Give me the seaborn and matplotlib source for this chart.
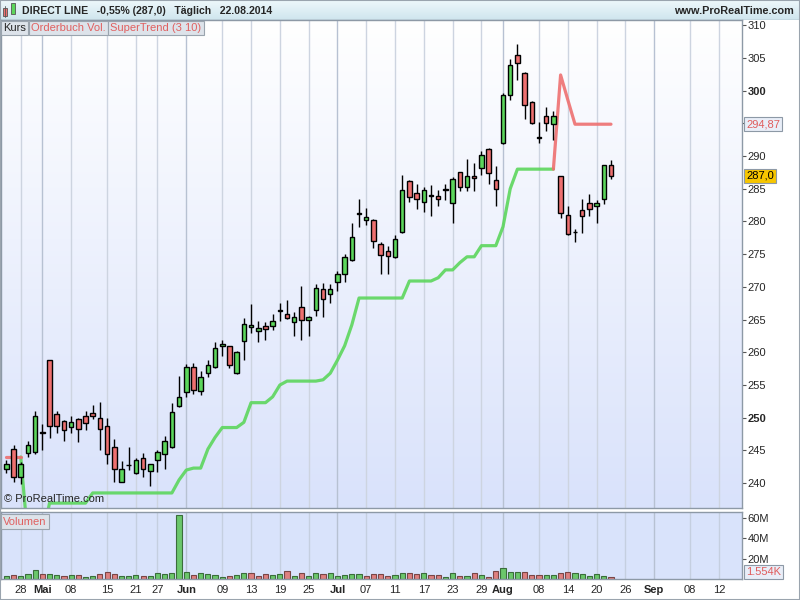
import numpy as np
import pandas as pd
import matplotlib
matplotlib.use("Agg")
import matplotlib.pyplot as plt
import seaborn as sns
from matplotlib.colors import LinearSegmentedColormap

# daily OHLC for DIRECT LINE, 24.04.2014 - 22.08.2014
opens = [242.1, 245.2, 241.0, 244.6, 244.7, 247.7, 258.8, 250.5, 249.5, 248.6,
         249.8, 250.2, 250.7, 249.9, 248.7, 245.5, 240.2, 242.7, 241.5, 243.8,
         241.9, 243.6, 244.4, 245.5, 251.8, 253.9, 257.7, 254.1, 256.8, 257.7,
         260.9, 260.9, 256.8, 261.8, 263.8, 263.3, 264.0, 264.0, 266.3, 265.8,
         264.6, 266.9, 264.9, 266.5, 269.7, 268.9, 270.7, 271.9, 274.1, 281.2,
         280.3, 280.3, 276.5, 275.5, 274.5, 278.4, 286.2, 284.4, 283.0, 283.95,
         283.9, 284.85, 282.9, 287.5, 285.2, 287.0, 288.1, 291.1, 286.3, 292.0,
         299.3, 305.5, 302.7, 298.2, 292.75, 296.2, 294.9, 286.9, 281.0, 278.35,
         281.7, 282.8, 282.4, 283.5, 288.7]
highs = [243.6, 245.8, 243.3, 246.4, 251.0, 249.0, 258.9, 251.0, 249.6, 250.2,
         249.9, 251.1, 251.9, 252.4, 249.9, 246.7, 243.4, 245.5, 243.9, 244.6,
         243.0, 245.1, 247.2, 252.2, 256.4, 258.2, 258.3, 257.1, 258.9, 261.6,
         261.9, 261.0, 260.2, 265.2, 267.4, 264.8, 264.7, 265.8, 267.6, 268.0,
         266.1, 270.1, 265.5, 270.4, 270.6, 270.4, 272.4, 275.1, 279.8, 283.5,
         282.0, 280.4, 276.8, 276.3, 277.9, 287.1, 286.4, 285.7, 285.2, 285.6,
         284.8, 285.8, 286.8, 287.6, 289.5, 288.9, 290.7, 291.2, 288.5, 299.6,
         304.8, 307.2, 302.9, 298.4, 295.2, 297.5, 296.9, 287.0, 282.4, 278.9,
         283.4, 284.2, 283.3, 288.7, 289.4]
lows = [241.6, 240.2, 239.8, 244.0, 244.5, 245.1, 246.9, 247.6, 246.5, 247.7,
        246.3, 248.1, 249.8, 245.0, 243.0, 240.2, 240.1, 242.0, 241.4, 241.0,
        239.6, 241.7, 242.1, 245.4, 251.7, 253.2, 253.7, 253.4, 256.3, 257.6,
        259.5, 257.6, 256.7, 258.8, 262.9, 261.5, 261.9, 263.4, 264.8, 265.1,
        262.5, 261.9, 262.5, 265.6, 265.4, 267.5, 269.3, 270.8, 273.9, 279.1,
        279.5, 275.9, 271.9, 271.9, 274.4, 278.2, 283.0, 281.9, 281.5, 280.9,
        282.4, 283.3, 279.8, 284.6, 284.7, 284.7, 287.1, 285.8, 282.3, 291.9,
        298.5, 301.6, 295.7, 294.9, 292.0, 293.9, 292.5, 280.6, 278.0, 276.8,
        278.3, 280.9, 279.8, 282.6, 286.5]
closes = [242.9, 241.0, 243.0, 245.8, 250.2, 247.8, 248.8, 248.8, 248.2, 249.3,
          248.3, 249.2, 250.2, 248.3, 244.4, 242.1, 242.1, 242.8, 243.6, 242.1,
          242.9, 244.7, 246.5, 250.8, 253.1, 257.7, 254.3, 256.2, 258.0, 260.6,
          261.2, 258.0, 260.0, 264.4, 264.2, 263.7, 263.5, 264.8, 266.4, 265.2,
          265.4, 264.9, 265.4, 269.9, 268.1, 269.7, 271.9, 274.5, 277.7, 281.3,
          280.7, 277.0, 274.8, 274.7, 277.3, 284.8, 283.8, 283.5, 284.8, 284.05,
          283.5, 284.95, 286.5, 285.2, 286.9, 286.6, 290.2, 287.4, 284.9, 299.3,
          303.9, 304.2, 297.8, 295.0, 292.85, 295.0, 296.2, 281.3, 278.1, 278.45,
          280.9, 281.9, 282.9, 288.6, 287.0]
# volume in millions of shares
volumes = [2.6, 3.6, 2.6, 4.6, 8.5, 4.6, 4.6, 3.6, 2.6, 3.6,
           3.6, 2.0, 2.6, 4.6, 6.6, 4.6, 2.6, 2.6, 3.6, 2.6,
           2.6, 5.6, 4.6, 5.6, 62.6, 6.6, 3.6, 5.6, 4.6, 3.6,
           2.0, 2.6, 3.6, 5.6, 5.6, 2.6, 4.6, 3.6, 4.6, 7.5,
           2.6, 5.6, 2.6, 5.6, 4.6, 5.6, 2.6, 3.6, 4.6, 4.6,
           2.6, 4.6, 4.6, 2.6, 3.6, 5.6, 5.6, 4.6, 5.6, 3.6,
           3.6, 2.0, 5.6, 2.6, 2.6, 5.6, 3.6, 2.0, 7.5, 10.5,
           6.6, 6.6, 6.6, 3.6, 3.6, 3.6, 3.6, 5.6, 6.6, 5.6,
           4.6, 2.6, 4.6, 2.6, 2.0]
# SuperTrend (3 10)
supertrend = [244.0, 244.0, 244.0, 231.5, 231.5, 231.5, 236.95, 236.95, 236.95, 236.95,
              236.95, 236.95, 238.5, 238.5, 238.5, 238.5, 238.5, 238.5, 238.5, 238.5,
              238.5, 238.5, 238.5, 238.5, 240.5, 242.0, 242.3, 242.3, 245.2, 247.0,
              248.5, 248.5, 248.5, 249.3, 252.3, 252.3, 252.3, 253.2, 255.0, 255.6,
              255.6, 255.6, 255.6, 255.6, 255.8, 256.8, 258.8, 261.0, 264.2, 268.3,
              268.3, 268.3, 268.3, 268.3, 268.3, 268.3, 270.9, 270.9, 270.9, 270.9,
              271.4, 272.6, 272.6, 273.7, 274.6, 274.6, 276.3, 276.3, 276.3, 279.2,
              285.0, 288.0, 288.0, 288.0, 288.0, 288.0, 288.0, 302.4, 298.6, 294.87,
              294.87, 294.87, 294.87, 294.87, 294.87]
st_trend = ["down"] * 3 + ["up"] * 74 + ["down"] * 8

tick_dates = ["2014-04-28", "2014-05-01", "2014-05-08", "2014-05-15", "2014-05-21",
              "2014-05-27", "2014-06-02", "2014-06-09", "2014-06-13", "2014-06-19",
              "2014-06-25", "2014-07-01", "2014-07-07", "2014-07-11", "2014-07-17",
              "2014-07-23", "2014-07-29", "2014-08-01", "2014-08-08", "2014-08-14",
              "2014-08-20", "2014-08-26", "2014-09-01", "2014-09-08", "2014-09-12"]
tick_labels = ["28", "Mai", "08", "15", "21", "27", "Jun", "09", "13", "19", "25",
               "Jul", "07", "11", "17", "23", "29", "Aug", "08", "14", "20", "26",
               "Sep", "08", "12"]

# trading calendar (UK bank holidays 05.05 and 26.05 skipped)
days = pd.bdate_range("2014-04-24", "2014-09-19")
days = days.drop(pd.to_datetime(["2014-05-05", "2014-05-26"]))
pos = {d: i for i, d in enumerate(days)}
tick_pos = [pos[pd.Timestamp(d)] for d in tick_dates]

df = pd.DataFrame({"open": opens, "high": highs, "low": lows, "close": closes,
                   "vol": volumes, "st": supertrend, "trend": st_trend})
df["x"] = np.arange(len(df))
df["dir"] = np.where(df["close"] >= df["open"], "up", "down")
df["vdir"] = np.where(df["close"] >= df["close"].shift(1).fillna(0), "up", "down")

GREEN = "#5cd65c"
RED = "#ee7070"
FS = 8

sns.set_style("white")
plt.rcParams["font.family"] = ["Liberation Sans", "DejaVu Sans"]

W, H = 800, 600
fig = plt.figure(figsize=(8, 6), dpi=100)


def fx(px):
    return px / W


def fy(py):
    return 1 - py / H


XMIN, XMAX = -0.74, 102.2

# header bar
hdr = fig.add_axes([0, fy(20), 1, 20 / H])
hdr.imshow(np.linspace(0, 1, 50).reshape(-1, 1), extent=[0, W, 20, 0], aspect="auto",
           cmap=LinearSegmentedColormap.from_list("h", ["#eef8fb", "#cfe5ee"]))
hdr.set_xlim(0, W)
hdr.set_ylim(20, 0)
hdr.axis("off")
hdr.add_patch(plt.Rectangle((3, 8), 4, 8, fc=RED, ec="#555555", lw=0.6))
hdr.plot([5, 5], [6, 17], color="#555555", lw=0.6)
hdr.add_patch(plt.Rectangle((11, 3), 4, 11, fc=GREEN, ec="#555555", lw=0.6))
hdr.text(22, 10.5, "DIRECT LINE   -0,55% (287,0)   Täglich   22.08.2014",
         fontsize=7.6, fontweight="bold", va="center", ha="left")
hdr.text(794, 10.5, "www.ProRealTime.com", fontsize=7.8, fontweight="bold",
         va="center", ha="right")
hdr.axhline(19.5, color="#9aa4ae", lw=1)

# price panel
ax = fig.add_axes([fx(1), fy(508), fx(741), 488 / H])
YMIN, YMAX = 236.2, 310.8
ax.imshow(np.linspace(0, 1, 256).reshape(-1, 1), extent=[XMIN, XMAX, YMIN, YMAX],
          origin="lower", aspect="auto", zorder=0,
          cmap=LinearSegmentedColormap.from_list("bg", ["#d9e2fb", "#ffffff"]))
for i, t in enumerate(tick_pos):
    month = tick_labels[i].isalpha()
    ax.axvline(t, color="#b7c1d2" if month else "#cdd4e0", lw=1.0, zorder=1)

ax.vlines(df["x"], df["low"], df["high"], color="black", lw=1.0, zorder=3)
ax.bar(df["x"], (df["close"] - df["open"]).abs(), bottom=df[["open", "close"]].min(axis=1),
       width=0.62, color=[GREEN if d == "up" else RED for d in df["dir"]],
       edgecolor="black", linewidth=1.0, zorder=4)

up = df.iloc[2:77]
dn1 = df.iloc[0:3]
dn2 = df.iloc[76:]
sns.lineplot(x=up["x"], y=up["st"], ax=ax, color=GREEN, lw=2.3, alpha=0.9, zorder=2)
sns.lineplot(x=dn1["x"], y=dn1["st"], ax=ax, color=RED, lw=2.3, alpha=0.9, zorder=2)
sns.lineplot(x=dn2["x"], y=dn2["st"], ax=ax, color=RED, lw=2.3, alpha=0.9, zorder=2)

ax.set_xlim(XMIN, XMAX)
ax.set_ylim(YMIN, YMAX)
ax.set_xlabel("")
ax.set_ylabel("")
ax.set_xticks([])
ax.yaxis.tick_right()
yt = list(range(240, 311, 5))
ax.set_yticks(yt)
# 295 sits under the SuperTrend value box
ax.set_yticklabels(["" if v == 295 else str(v) for v in yt], fontsize=FS)
for lab, v in zip(ax.get_yticklabels(), yt):
    if v in (250, 300):
        lab.set_fontweight("bold")
ax.tick_params(axis="y", direction="out", length=3, width=0.8, color="#555555", pad=1)
for s in ax.spines.values():
    s.set_color("#8d99a6")
    s.set_linewidth(1.0)

# last values on the axis
ax.text(1.006, (294.87 - YMIN) / (YMAX - YMIN), "294,87", transform=ax.transAxes,
        fontsize=FS, color="#e05c5c", va="center", ha="left",
        bbox=dict(boxstyle="square,pad=0.18", fc="#e9eef8", ec="#8d99a6", lw=0.8))
ax.text(1.006, (287.0 - YMIN) / (YMAX - YMIN), "287,0", transform=ax.transAxes,
        fontsize=FS, color="black", va="center", ha="left",
        bbox=dict(boxstyle="square,pad=0.18", fc="#f7c600", ec="#8d99a6", lw=0.8))

ax.text(0.004, 0.008, "© ProRealTime.com", transform=ax.transAxes, fontsize=FS,
        va="bottom", ha="left", zorder=6)

# indicator tabs
tab = dict(boxstyle="square,pad=0.22", fc="#dde3ea", ec="#9aa4ae", lw=0.8)
fig.text(fx(3), fy(28), "Kurs", fontsize=FS, va="center", ha="left", bbox=tab)
fig.text(fx(31), fy(28), "Orderbuch Vol.", fontsize=FS, color="#e06060",
         va="center", ha="left", bbox=tab)
fig.text(fx(110), fy(28), "SuperTrend (3 10)", fontsize=FS, color="#e06060",
         va="center", ha="left", bbox=tab)

# volume panel
axv = fig.add_axes([fx(1), fy(579), fx(741), 67 / H])
axv.set_facecolor("#d9e3fb")
for i, t in enumerate(tick_pos):
    month = tick_labels[i].isalpha()
    axv.axvline(t, color="#b7c1d2" if month else "#c5cfe0", lw=1.0, zorder=0)
sns.barplot(data=df, x="x", y="vol", hue="vdir", palette={"up": GREEN, "down": RED},
            native_scale=True, dodge=False, legend=False, width=0.72,
            linewidth=0.8, ax=axv, zorder=2)
for p in axv.patches:
    fc = p.get_facecolor()
    p.set_edgecolor((fc[0] * 0.55, fc[1] * 0.55, fc[2] * 0.55, 1))
axv.set_xlim(XMIN, XMAX)
axv.set_ylim(0, 66)
axv.set_xlabel("")
axv.set_ylabel("")
axv.yaxis.tick_right()
axv.set_yticks([20, 40, 60])
axv.set_yticklabels(["20M", "40M", "60M"], fontsize=FS)
axv.tick_params(axis="y", direction="out", length=3, width=0.8, color="#555555", pad=1)
axv.set_xticks(tick_pos)
axv.set_xticklabels(tick_labels, fontsize=FS)
for lab, t in zip(axv.get_xticklabels(), tick_labels):
    if t.isalpha():
        lab.set_fontweight("bold")
axv.tick_params(axis="x", length=0, pad=4)
for s in axv.spines.values():
    s.set_color("#8d99a6")
    s.set_linewidth(1.0)
axv.text(1.006, 0.11, "1.554K", transform=axv.transAxes, fontsize=FS, color="#e05c5c",
         va="center", ha="left",
         bbox=dict(boxstyle="square,pad=0.18", fc="#e9eef8", ec="#8d99a6", lw=0.8))
axv.text(0.003, 0.93, "Volumen", transform=axv.transAxes, fontsize=FS, color="#e06060",
         va="top", ha="left", bbox=tab, zorder=6)

# outer frame
fig.add_artist(plt.Rectangle((0, 0), 1, 1, transform=fig.transFigure, fill=False,
                             ec="#9aa4ae", lw=1.5))

fig.savefig("out.png", dpi=100)
